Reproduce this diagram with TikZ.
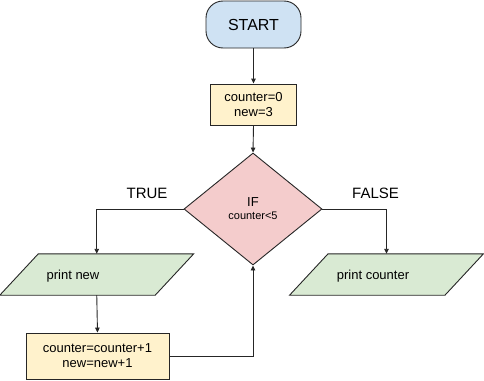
\documentclass[tikz,border=0pt]{standalone}
\usepackage{fontspec}
\setmainfont{Liberation Sans}
\usetikzlibrary{arrows.meta,shapes.geometric}
\definecolor{startblue}{HTML}{CFE2F3}
\definecolor{procyellow}{HTML}{FFF2CC}
\definecolor{decpink}{HTML}{F4CCCC}
\definecolor{iogreen}{HTML}{D9EAD3}
\definecolor{linegray}{HTML}{262626}
\tikzset{
  base/.style={draw=linegray, line width=0.9pt, inner sep=0pt, align=center},
  terminal/.style={base, fill=startblue, rounded corners=17pt,
    minimum width=95pt, minimum height=47pt, font=\fontsize{16}{18}\selectfont},
  proc/.style={base, fill=procyellow, font=\fontsize{13}{15}\selectfont},
  decision/.style={base, fill=decpink, diamond, minimum width=138pt, minimum height=112pt},
  % anchor frame of an input/output box; the slanted outline is drawn separately
  ioframe/.style={inner sep=0pt, minimum width=155pt, minimum height=41pt},
  ioshape/.style={draw=linegray, line width=0.9pt, fill=iogreen, line join=miter},
  iotext/.style={font=\fontsize{13}{15}\selectfont, inner sep=0pt},
  branch/.style={font=\fontsize{15}{17}\selectfont, inner sep=0pt},
  flow/.style={draw=linegray, line width=0.9pt, -{Triangle[length=5pt,width=4.5pt]}}
}
\begin{document}
\begin{tikzpicture}[x=1pt,y=-1pt]
\useasboundingbox (0,0) rectangle (484,380);

% start terminal and initialisation
\node[terminal] (start) at (253.5,24.5) {START};
\node[proc, minimum width=86pt, minimum height=41pt] (init) at (253.5,104.5) {counter=0\\new=3};

% loop condition
\node[decision] (cond) at (253,209) {{\fontsize{13}{15}\selectfont IF}\\[1pt]{\fontsize{11}{13}\selectfont counter<5}};
\node[branch] (true) at (147,193) {TRUE};
\node[branch] (false) at (375.5,193) {FALSE};

% outputs: slanted boxes, slant of 19.25pt on each side
\node[ioframe] (pnew) at (96.75,274.5) {};
\draw[ioshape] ([xshift=-19.25pt]pnew.south west) -- ([xshift=-19.25pt]pnew.south east)
  -- ([xshift=19.25pt]pnew.north east) -- ([xshift=19.25pt]pnew.north west) -- cycle;
\node[iotext] (pnewtxt) at (73,276) {print new};

\node[ioframe] (pcnt) at (386.5,274.5) {};
\draw[ioshape] ([xshift=-19.25pt]pcnt.south west) -- ([xshift=-19.25pt]pcnt.south east)
  -- ([xshift=19.25pt]pcnt.north east) -- ([xshift=19.25pt]pcnt.north west) -- cycle;
\node[iotext] (pcnttxt) at (373,276) {print counter};

% loop update
\node[proc, minimum width=143pt, minimum height=46pt] (upd) at (97.5,356) {counter=counter+1\\new=new+1};

% connectors
\draw[flow] (start.south) -- (init.north);
\draw[flow] (init.south) -- (cond.north);
\draw[flow] (cond.west) -| (pnew.north);
\draw[flow] (cond.east) -| (pcnt.north);
\draw[flow] (pnew.south) -- (upd.north);
\draw[flow] (upd.east) -| (cond.south);
\end{tikzpicture}
\end{document}
